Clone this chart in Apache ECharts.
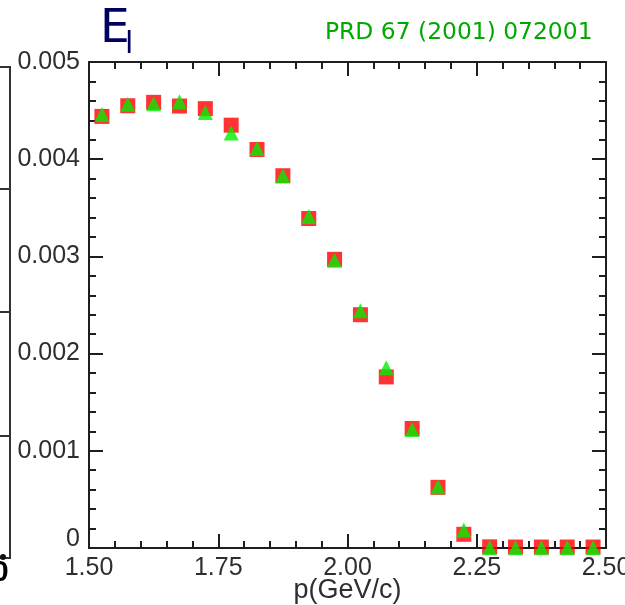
<!DOCTYPE html>
<html>
<head>
<meta charset="utf-8">
<script src="https://cdn.jsdelivr.net/npm/echarts@6/dist/echarts.min.js"></script>
<style>
  html, body { margin: 0; padding: 0; background: #fff; }
  #chart { width: 625px; height: 605px; }
</style>
</head>
<body>
<div id="chart"></div>
<script>
// Momentum bin centres (GeV/c)
const momentum = [1.525, 1.575, 1.625, 1.675, 1.725, 1.775, 1.825, 1.875, 1.925, 1.975,
                  2.025, 2.075, 2.125, 2.175, 2.225, 2.275, 2.325, 2.375, 2.425, 2.475];
// Electron spectrum, two calculations
const spectrumA = [0.00444, 0.00455, 0.004585, 0.004547, 0.00452, 0.00435, 0.00410, 0.00383, 0.00339, 0.00297,
                   0.00240, 0.00176, 0.00123, 0.000624, 0.000141, 0.000012, 0.00001, 0.00001, 0.00001, 0.00001];
const spectrumB = [0.00446, 0.004565, 0.00457, 0.00459, 0.00448, 0.00427, 0.00411, 0.00383, 0.00341, 0.00296,
                   0.00244, 0.001855, 0.00122, 0.00063, 0.000185, 0.000003, 0.000002, 0.000002, 0.000002, 0.000002];
// Axis ranges and tick spacing
const xRange = [1.5, 2.5];
const xStep = 0.25;
const yRange = [0, 0.005];
const yStep = 0.001;

const axisColor = '#1e1e1e';
const labelColor = '#2e2e2e';
const labelFont = 'Liberation Sans, Arial, sans-serif';

function frameAxis(showLabels, extra) {
  return Object.assign({
    axisLine: { show: true, onZero: false, lineStyle: { color: axisColor, width: 2 } },
    axisTick: { show: true, inside: true, length: 14, lineStyle: { color: axisColor, width: 2 } },
    minorTick: { show: true, splitNumber: 5, length: 7, lineStyle: { color: axisColor, width: 2 } },
    splitLine: { show: false },
    axisLabel: { show: showLabels }
  }, extra);
}

const chart = echarts.init(document.getElementById('chart'), null, { renderer: 'canvas' });

chart.setOption({
  animation: false,
  backgroundColor: '#ffffff',
  grid: { left: 89, top: 62, right: 19, bottom: 57, containLabel: false, outerBoundsMode: 'none' },
  xAxis: [
    frameAxis(true, {
      type: 'value', position: 'bottom', min: xRange[0], max: xRange[1], interval: xStep,
      name: 'p(GeV/c)', nameLocation: 'middle', nameGap: 29, nameMoveOverlap: false,
      nameTextStyle: { color: labelColor, fontSize: 27, fontFamily: labelFont, verticalAlign: 'top' },
      axisLabel: { show: true, margin: 8, color: labelColor, fontSize: 25, fontFamily: labelFont,
                   formatter: v => v.toFixed(2) }
    }),
    frameAxis(false, {
      type: 'value', position: 'top', min: xRange[0], max: xRange[1], interval: xStep
    })
  ],
  yAxis: [
    frameAxis(true, {
      type: 'value', position: 'left', min: yRange[0], max: yRange[1], interval: yStep,
      axisLabel: {
        show: true, margin: 9, color: labelColor, fontSize: 25, fontFamily: labelFont,
        formatter: v => (v === 0 ? '{z|0}' : v.toFixed(3)),
        rich: { z: { color: labelColor, fontSize: 25, fontFamily: labelFont, padding: [0, 0, 18, 0] } }
      }
    }),
    frameAxis(false, {
      type: 'value', position: 'right', min: yRange[0], max: yRange[1], interval: yStep
    })
  ],
  series: [
    {
      name: 'A', type: 'scatter', xAxisIndex: 0, yAxisIndex: 0,
      symbol: 'rect', symbolSize: 15,
      itemStyle: { color: '#ff0000' },
      data: momentum.map((p, i) => [p, spectrumA[i]]),
      z: 2
    },
    {
      name: 'B', type: 'scatter', xAxisIndex: 0, yAxisIndex: 0,
      symbol: 'triangle', symbolSize: [15, 15],
      itemStyle: { color: '#00ee00' },
      data: momentum.map((p, i) => [p, spectrumB[i]]),
      z: 3
    }
  ],
  graphic: [
    // Panel title E with subscript l
    { type: 'text', left: 100, top: 6,
      style: { text: 'E', fill: '#00005e', font: '47px "DejaVu Sans", sans-serif' } },
    { type: 'text', left: 125, top: 30,
      style: { text: 'l', fill: '#00005e', font: '30px "DejaVu Sans", sans-serif' } },
    // Reference
    { type: 'text', left: 325, top: 21,
      style: { text: 'PRD 67 (2001) 072001', fill: '#00a800', font: '23.4px "DejaVu Sans", sans-serif' } },
    // Edge of the neighbouring panel
    { type: 'polyline', shape: { points: [[0, 67], [10, 67], [10, 558], [0, 558]] },
      style: { stroke: '#333', lineWidth: 2, fill: null } },
    { type: 'line', shape: { x1: 0, y1: 189, x2: 10, y2: 189 }, style: { stroke: '#333', lineWidth: 2 } },
    { type: 'line', shape: { x1: 0, y1: 312, x2: 10, y2: 312 }, style: { stroke: '#333', lineWidth: 2 } },
    { type: 'line', shape: { x1: 0, y1: 436, x2: 10, y2: 436 }, style: { stroke: '#333', lineWidth: 2 } },
    { type: 'circle', shape: { cx: 3, cy: 557, r: 3 }, style: { fill: '#111' } },
    { type: 'text', left: -8, top: 558,
      style: { text: '0', fill: '#000', font: 'bold 30px "Liberation Sans", sans-serif' } }
  ]
});
</script>
</body>
</html>
